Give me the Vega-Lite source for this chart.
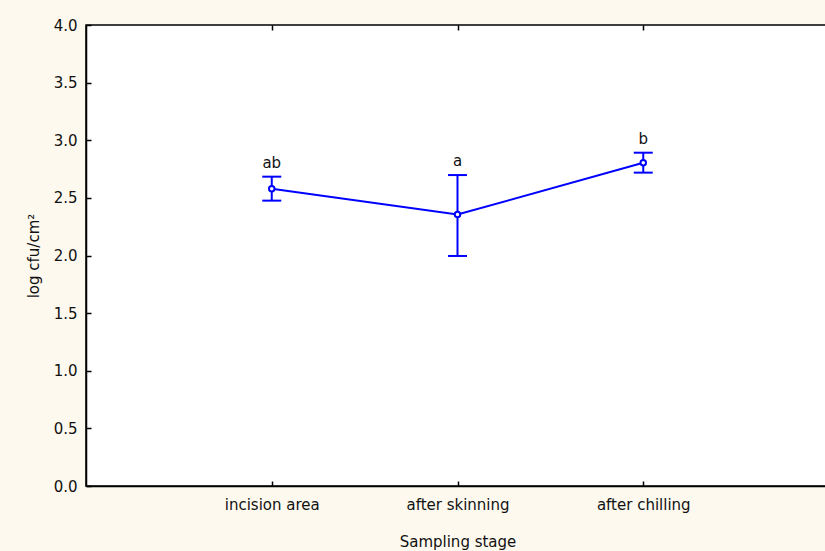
{
  "$schema": "https://vega.github.io/schema/vega-lite/v6.json",
  "autosize": "none",
  "width": 743,
  "height": 461,
  "padding": {"left": 86, "top": 25, "right": 0, "bottom": 65},
  "background": "#fdf9ee",
  "config": {
    "view": {"fill": "#ffffff", "stroke": "#000000", "strokeWidth": 1.5},
    "font": "DejaVu Sans",
    "axis": {
      "domainColor": "#000000",
      "domainWidth": 1.5,
      "tickColor": "#000000",
      "tickWidth": 1.5,
      "labelColor": "#111111",
      "titleColor": "#111111",
      "labelFont": "DejaVu Sans",
      "titleFont": "DejaVu Sans",
      "labelFontSize": 15,
      "titleFontSize": 15,
      "titleFontWeight": "normal",
      "grid": false
    }
  },
  "data": {
    "values": [
      {"stage": "incision area", "mean": 2.58, "lower": 2.476, "upper": 2.684, "group": "ab"},
      {"stage": "after skinning", "mean": 2.355, "lower": 1.996, "upper": 2.698, "group": "a"},
      {"stage": "after chilling", "mean": 2.805, "lower": 2.719, "upper": 2.892, "group": "b"}
    ]
  },
  "resolve": {"axis": {"x": "independent"}},
  "layer": [
    {
      "mark": {"type": "line", "color": "#0000ff", "strokeWidth": 2},
      "encoding": {
        "x": {
          "field": "stage",
          "type": "nominal",
          "sort": ["incision area", "after skinning", "after chilling"],
          "scale": {"type": "point", "padding": 1},
          "title": "Sampling stage",
          "axis": {"orient": "bottom", "labelAngle": 0, "tickSize": -5, "labelPadding": 16, "titlePadding": 22}
        },
        "y": {
          "field": "mean",
          "type": "quantitative",
          "scale": {"domain": [0, 4], "nice": false},
          "title": "log cfu/cm²",
          "axis": {"values": [0, 0.5, 1, 1.5, 2, 2.5, 3, 3.5, 4], "format": ".1f", "tickSize": -5, "labelPadding": 14, "titlePadding": 12}
        }
      }
    },
    {
      "mark": {"type": "rule", "color": "#0000ff", "strokeWidth": 2},
      "encoding": {
        "x": {"field": "stage", "type": "nominal", "sort": ["incision area", "after skinning", "after chilling"], "axis": null},
        "y": {"field": "lower", "type": "quantitative"},
        "y2": {"field": "upper"}
      }
    },
    {
      "mark": {"type": "tick", "color": "#0000ff", "size": 19, "thickness": 2, "opacity": 1},
      "encoding": {
        "x": {"field": "stage", "type": "nominal", "sort": ["incision area", "after skinning", "after chilling"], "axis": null},
        "y": {"field": "lower", "type": "quantitative"}
      }
    },
    {
      "mark": {"type": "tick", "color": "#0000ff", "size": 19, "thickness": 2, "opacity": 1},
      "encoding": {
        "x": {"field": "stage", "type": "nominal", "sort": ["incision area", "after skinning", "after chilling"], "axis": null},
        "y": {"field": "upper", "type": "quantitative"}
      }
    },
    {
      "mark": {"type": "point", "shape": "circle", "size": 30, "filled": false, "fill": "#ffffff", "color": "#0000ff", "strokeWidth": 2, "opacity": 1},
      "encoding": {
        "x": {"field": "stage", "type": "nominal", "sort": ["incision area", "after skinning", "after chilling"], "axis": null},
        "y": {"field": "mean", "type": "quantitative"}
      }
    },
    {
      "mark": {"type": "text", "fontSize": 15, "baseline": "alphabetic", "dy": -9, "color": "#111111", "font": "DejaVu Sans"},
      "encoding": {
        "x": {"field": "stage", "type": "nominal", "sort": ["incision area", "after skinning", "after chilling"], "axis": null},
        "y": {"field": "upper", "type": "quantitative"},
        "text": {"field": "group"}
      }
    },
    {
      "mark": {"type": "rule", "opacity": 0},
      "encoding": {
        "x": {
          "field": "stage",
          "type": "nominal",
          "sort": ["incision area", "after skinning", "after chilling"],
          "axis": {"orient": "top", "labels": false, "title": null, "tickSize": -5, "domain": false}
        },
        "y": {"field": "mean", "type": "quantitative"}
      }
    }
  ]
}
